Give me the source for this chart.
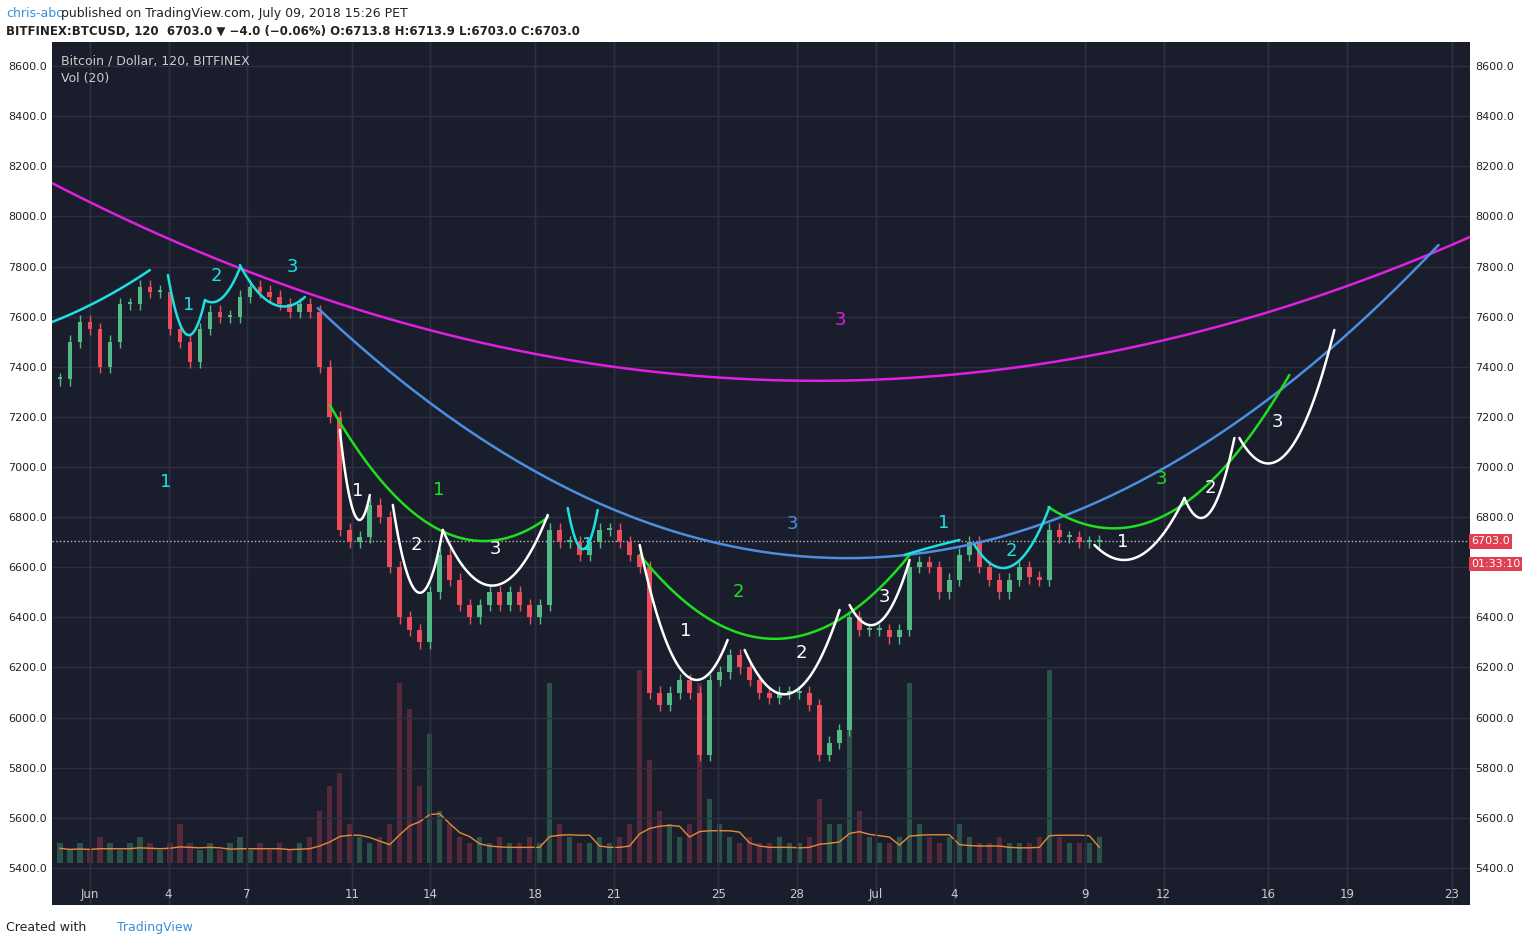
import numpy as np, pandas as pd, matplotlib
matplotlib.use("Agg")
import matplotlib.pyplot as plt, seaborn as sns

# closes every ~0.38 day starting day -1.15 (days from Jun 1)
closes = [7350,7500,7580,7550,7400,7500,7650,7650,7720,7700,7700,7550,7500,7420,7550,7620,7600,7600,7680,7720,
          7700,7680,7650,7620,7650,7620,7400,7200,6750,6700,6720,6850,6800,6600,6400,6350,6300,6500,6650,6550,
          6450,6400,6450,6500,6450,6500,6450,6400,6450,6750,6700,6700,6650,6700,6750,6750,6700,6650,6600,6100,
          6050,6100,6150,6100,5850,6150,6180,6250,6200,6150,6100,6080,6100,6100,6100,6050,5850,5900,5950,6400,
          6350,6350,6350,6320,6350,6600,6620,6600,6500,6550,6650,6700,6600,6550,6500,6550,6600,6560,6550,6750,
          6720,6720,6700,6700,6703]
volumes = [1.5,1,1.5,1,2,1.5,1,1.5,2,1.5,1,1.5,3,1.5,1,1.5,1,1.5,2,1,1.5,1,1.5,1,1.5,2,4,6,7,3,2,1.5,2,3,14,12,6,10,4,3,
           2,1.5,2,1.5,2,1.5,1.5,2,1.5,14,3,2,1.5,1.5,2,1.5,2,3,15,8,4,3,2,3,14,5,3,2,1.5,2,1.5,1.5,2,1.5,1.5,2,5,3,3,11,
           4,2,1.5,1.5,2,14,3,2,1.5,2,3,2,1.5,1.5,2,1.5,1.5,1.5,2,15,2,1.5,1.5,1.5,2]
start_day, step = -1.15, 10/26.2
xtick_days = [0,3,6,10,13,17,20,24,27,30,33,38,41,45,48,52]
xtick_labels = ["Jun","4","7","11","14","18","21","25","28","Jul","4","9","12","16","19","23"]
yticks = list(range(5400, 8601, 200))

arcs = {
 "pink":("#e020e0",[(-1.45,8133),(29.6,7347),(52.7,7918)]),
 "blue":("#4a8fe0",[(8.7,7634),(27.5,6641),(51.5,7886)]),
 "g1":("#1ee01e",[(9.16,7247),(14.5,6709),(17.5,6800)]),
 "g2":("#1ee01e",[(21,6649),(25.6,6318),(31.3,6649)]),
 "g3":("#1ee01e",[(36.6,6840),(38.5,6760),(45.8,7367)]),
}
cyan_px = [[(52,322),(100,300),(150,270)],[(168,275),(188,335),(205,300)],[(205,300),(225,295),(240,268)],
           [(240,265),(258,292),(305,297)],[(568,508),(588,545),(598,510)],[(905,555),(940,545),(960,540)],
           [(975,545),(1005,568),(1050,507)]]
white_px = [[(340,430),(355,515),(370,495)],[(393,505),(412,585),(443,530)],[(443,530),(505,582),(548,515)],
            [(640,545),(680,668),(728,640)],[(745,650),(800,688),(840,610)],[(850,605),(880,622),(910,560)],
            [(1095,545),(1125,560),(1185,498)],[(1185,498),(1210,513),(1235,438)],[(1240,438),(1265,463),(1335,330)]]
labels = [("1","#1ee0e0",(166,482)),("1","#1ee0e0",(189,305)),("2","#1ee0e0",(216,276)),("3","#1ee0e0",(293,267)),
          ("1","#1ee0e0",(588,545)),("1","#1ee0e0",(944,523)),("2","#1ee0e0",(1012,551)),
          ("1","#1ee01e",(439,490)),("2","#1ee01e",(739,592)),("3","#1ee01e",(1162,479)),
          ("3","#4a8fe0",(793,524)),("3","#e020e0",(841,320)),
          ("1","white",(358,491)),("2","white",(417,545)),("3","white",(496,549)),("1","white",(686,631)),
          ("2","white",(802,653)),("3","white",(885,597)),("1","white",(1123,542)),("2","white",(1211,488)),("3","white",(1278,422))]

def px(p): return ((p[0]-90)/26.2, 8600-(p[1]-66)*200/50.125)

sns.set_style("dark")
BG="#1a1e2c"
YLO, YHI = 5252, 8696
fig = plt.figure(figsize=(15.22,9.43), dpi=100, facecolor="white")
ax = fig.add_axes([52/1522, 38/943, 1418/1522, 863/943], facecolor=BG)
ax.set_zorder(2); ax.patch.set_visible(False)
axv = fig.add_axes(ax.get_position(), facecolor=BG, sharex=ax); axv.set_zorder(1)
axv.set_ylim(-3.3, 64); axv.set_yticks([]); axv.tick_params(labelbottom=False, length=0)
for s in axv.spines.values(): s.set_visible(False)

df = pd.DataFrame({"day":start_day+step*np.arange(len(closes)), "close":closes, "vol":volumes})
df["open"] = df["close"].shift(1).fillna(df["close"][0])
up = df["close"]>=df["open"]
cols = np.where(up,"#53b987","#eb4d5c")
axv.bar(df["day"], df["vol"], width=step*0.55, color=np.where(up,"#2a5248","#55293a"), lw=0)
sns.lineplot(x=df["day"], y=df["vol"].rolling(5, min_periods=1).mean()*0.35+0.6, ax=axv, color="#e58a3a", lw=1)
axv.grid(True, color="#2c3040", lw=1)
ax.bar(df["day"], (df["close"]-df["open"]).abs().clip(lower=8), bottom=np.minimum(df["open"],df["close"]),
       width=step*0.45, color=cols, lw=0, zorder=3)
ax.vlines(df["day"], np.minimum(df["open"],df["close"])-25, np.maximum(df["open"],df["close"])+25,
          color=cols, lw=1, zorder=3)
ax.set_xlim(-1.45,52.7); ax.set_ylim(YLO, YHI)
ax.set_yticks(yticks); ax.set_yticklabels([f"{v:.1f}" for v in yticks], fontsize=8, color="#222")
ax.set_xticks(xtick_days); ax.set_xticklabels(xtick_labels, fontsize=8.5, color="#ccc")
ax.tick_params(axis="x", pad=-12, length=0); ax.tick_params(axis="y", length=0)
ax.grid(True, color="#2c3040", lw=1)
for s in ax.spines.values(): s.set_visible(False)
axr = ax.twinx(); axr.set_ylim(ax.get_ylim()); axr.set_yticks(yticks)
axr.set_yticklabels(["" if v == 6600 else f"{v:.1f}" for v in yticks], fontsize=8, color="#222"); axr.tick_params(length=0)
for s in axr.spines.values(): s.set_visible(False)

def draw(pts, color):
    d = np.array(pts); c = np.polyfit(d[:,0], d[:,1], 2)
    xs = np.linspace(d[0,0], d[-1,0], 80)
    sns.lineplot(x=xs, y=np.polyval(c, xs), ax=ax, color=color, lw=1.8, zorder=4)
for col, pts in arcs.values(): draw(pts, col)
for pts in cyan_px: draw([px(p) for p in pts], "#1ee0e0")
for pts in white_px: draw([px(p) for p in pts], "white")
for t, c, p in labels:
    d = px(p); ax.text(d[0], d[1], t, color=c, fontsize=13, ha="center", va="center", zorder=5)
ax.axhline(6703, color="#bbb", ls=":", lw=1)
for y, t in [(6703,"6703.0"),(6612,"01:33:10")]:
    ax.text(1.001, (y-YLO)/(YHI-YLO), t, transform=ax.transAxes, fontsize=8, color="white",
            va="center", zorder=6, bbox=dict(fc="#e04050", ec="none", pad=1.5))
ax.text(0.006, 0.985, "Bitcoin / Dollar, 120, BITFINEX", transform=ax.transAxes, color="#ccc", fontsize=9, va="top")
ax.text(0.006, 0.965, "Vol (20)", transform=ax.transAxes, color="#ccc", fontsize=9, va="top")
fig.text(0.004, 0.993, "chris-abc", color="#3a8fd8", fontsize=9, va="top")
fig.text(0.040, 0.993, "published on TradingView.com, July 09, 2018 15:26 PET", color="#222", fontsize=9, va="top")
fig.text(0.004, 0.973, "BITFINEX:BTCUSD, 120  6703.0 ▼ −4.0 (−0.06%) O:6713.8 H:6713.9 L:6703.0 C:6703.0", color="#222", fontsize=8.5, va="top", fontweight="bold")
fig.text(0.004, 0.013, "Created with", color="#222", fontsize=9)
fig.text(0.077, 0.013, "TradingView", color="#3a8fd8", fontsize=9)
fig.savefig("out.png", dpi=100, facecolor="white")
